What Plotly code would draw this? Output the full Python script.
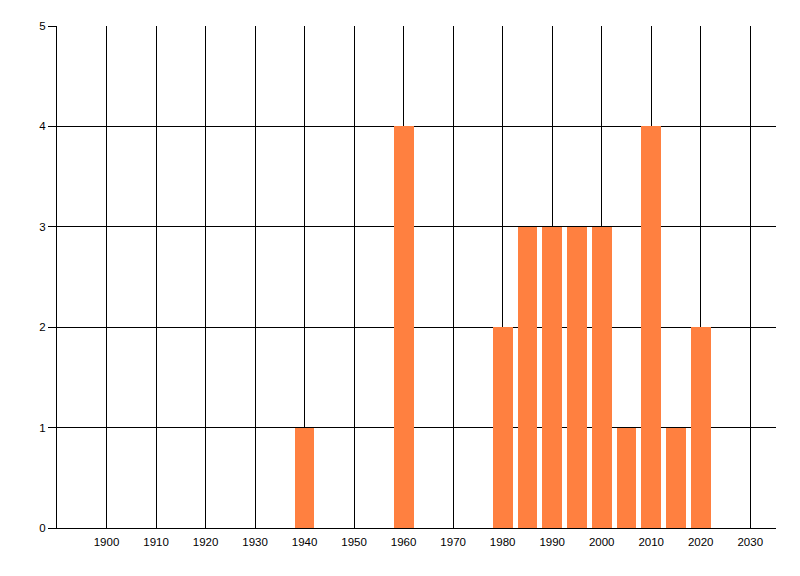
import plotly.graph_objects as go

# -- Datos -----------------------------------------------------------------
years = [1940, 1960, 1980, 1985, 1990, 1995, 2000, 2005, 2010, 2015, 2020]
counts = [1, 4, 2, 3, 3, 3, 3, 1, 4, 1, 2]
x_ticks = list(range(1900, 2031, 10))
y_ticks = [0, 1, 2, 3, 4, 5]

BAR_COLOR = "#FF8040"
FONT = dict(family="Liberation Sans, Arial, sans-serif", size=11.5, color="black")

fig = go.Figure()
fig.add_trace(go.Bar(
    x=years, y=counts,
    width=4,
    marker=dict(color=BAR_COLOR, line=dict(width=0)),
    showlegend=False,
))

# la pagina tiene 8px de margen en el body: se compensa aqui
fig.update_layout(
    width=800, height=576,
    margin=dict(l=49, r=32, t=18, b=56),
    paper_bgcolor="white", plot_bgcolor="white",
    font=FONT,
    bargap=0,
    xaxis=dict(
        range=[1890, 2035.2],
        tickvals=x_ticks, ticktext=[str(v) for v in x_ticks],
        showgrid=True, gridcolor="black", gridwidth=1.2,
        showline=True, linecolor="black", linewidth=1.2,
        ticks="", ticklabelstandoff=3,
        zeroline=False, automargin=False,
    ),
    yaxis=dict(
        range=[0, 5],
        tickvals=y_ticks,
        showgrid=True, gridcolor="black", gridwidth=1.2,
        showline=True, linecolor="black", linewidth=1.2,
        ticks="outside", ticklen=8, tickcolor="black", tickwidth=1.2,
        zeroline=False, automargin=False,
    ),
)

fig.write_html("out.html")
